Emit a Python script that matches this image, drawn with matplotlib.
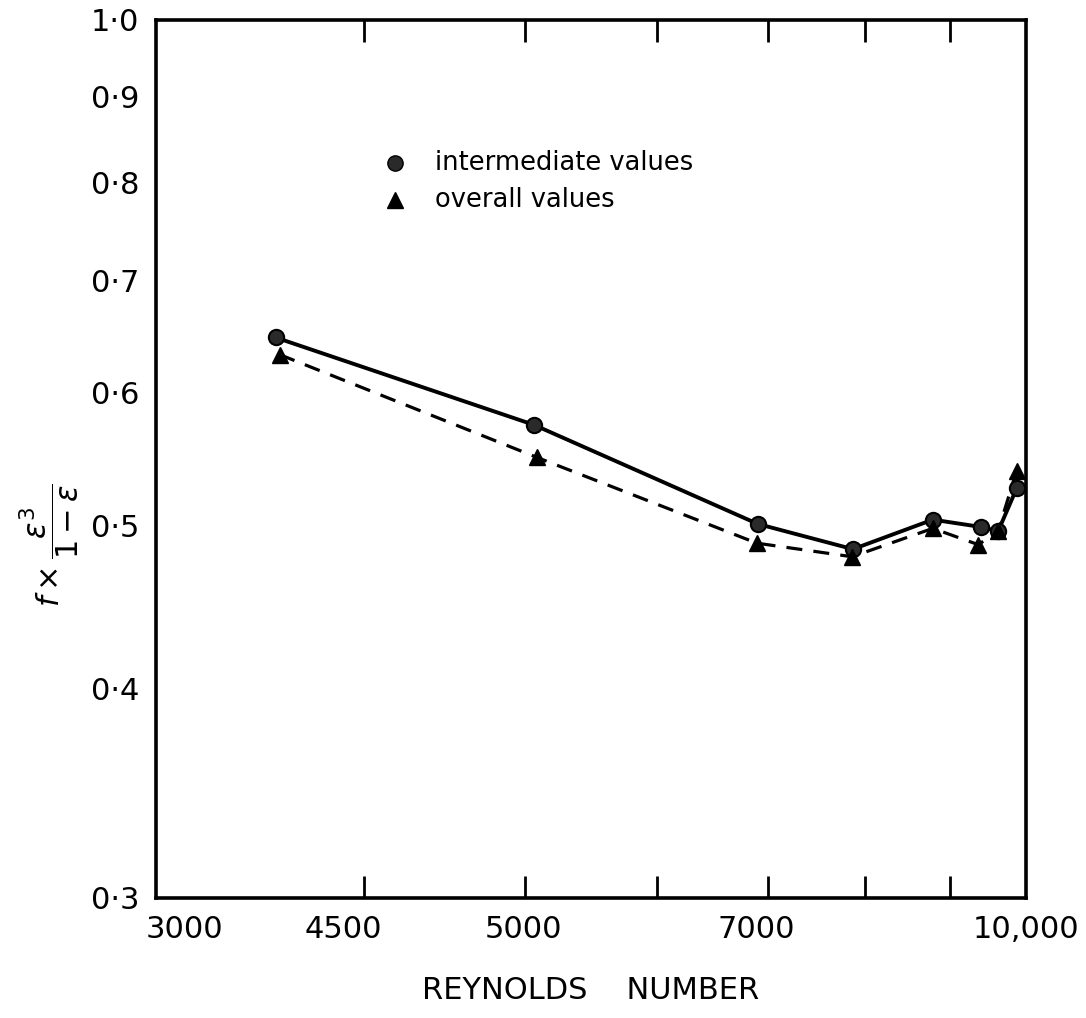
import matplotlib
matplotlib.use("Agg")
import matplotlib.pyplot as plt
from matplotlib.ticker import FixedLocator, NullFormatter

# data
re_int = [3540, 5060, 6900, 7870, 8790, 9390, 9620, 9870]
f_int = [0.647, 0.574, 0.501, 0.484, 0.504, 0.499, 0.496, 0.526]
re_all = [3560, 5080, 6890, 7860, 8790, 9360, 9620, 9870]
f_all = [0.632, 0.549, 0.488, 0.479, 0.498, 0.487, 0.496, 0.539]

x_ticks = [4000, 5000, 6000, 7000, 8000, 9000]
x_label_pos = [3120, 3890, 4990, 6880, 10000]
x_labels = ["3000", "4500", "5000", "7000", "10,000"]
y_ticks = [0.4, 0.5, 0.6, 0.7, 0.8, 0.9]
y_label_pos = [0.3, 0.4, 0.5, 0.6, 0.7, 0.8, 0.9, 1.0]
y_labels = ["0·3", "0·4", "0·5", "0·6", "0·7", "0·8", "0·9", "1·0"]

plt.rcParams['font.family'] = ['DejaVu Sans']

fig = plt.figure(figsize=(10.86, 10.18), dpi=100)
ax = fig.add_axes([0.1436, 0.1179, 0.8012, 0.8625])
ax.set_xscale("log")
ax.set_yscale("log")
ax.set_xlim(3000, 10000)
ax.set_ylim(0.3, 1.0)

ax.plot(re_int, f_int, "-", color="black", lw=2.8, zorder=3)
ax.plot(re_all, f_all, color="black", lw=2.3, linestyle=(0, (5, 3.5)), zorder=3)
ax.plot(re_int, f_int, "o", ms=11, mfc="#2a2a2a", mec="black", mew=1.5, zorder=4)
ax.plot(re_all, f_all, "^", ms=12, mfc="black", mec="black", zorder=4)

for s in ax.spines.values():
    s.set_linewidth(2.6)

# tick marks (inside, no labels) and separate label positions
ax.xaxis.set_minor_locator(FixedLocator(x_ticks))
ax.xaxis.set_minor_formatter(NullFormatter())
ax.xaxis.set_major_locator(FixedLocator(x_label_pos))
ax.set_xticklabels(x_labels)
ax.yaxis.set_minor_locator(FixedLocator(y_ticks))
ax.yaxis.set_minor_formatter(NullFormatter())
ax.yaxis.set_major_locator(FixedLocator(y_label_pos))
ax.set_yticklabels(y_labels)

ax.tick_params(which="minor", direction="in", length=16, width=2.0,
               top=True, right=True, bottom=True, left=True)
ax.tick_params(which="major", length=0, labelsize=22, pad=12)

xl = ax.set_xlabel("REYNOLDS    NUMBER", fontsize=22)
ax.xaxis.set_label_coords(0.499, -0.105)
xl.set_va("center")
yl = ax.set_ylabel(r"$f\times\dfrac{\varepsilon^3}{1-\varepsilon}$", fontsize=22)
ax.yaxis.set_label_coords(-0.122, 0.402)
yl.set_va("center")

# legend drawn as text
ax.plot([4175], [0.822], "o", ms=11, mfc="#2a2a2a", mec="black", clip_on=False)
ax.plot([4175], [0.781], "^", ms=12, mfc="black", mec="black", clip_on=False)
ax.text(4413, 0.822, "intermediate values", fontsize=18.5, va="center")
ax.text(4413, 0.781, "overall values", fontsize=18.5, va="center")

fig.savefig("out.png", dpi=100)
